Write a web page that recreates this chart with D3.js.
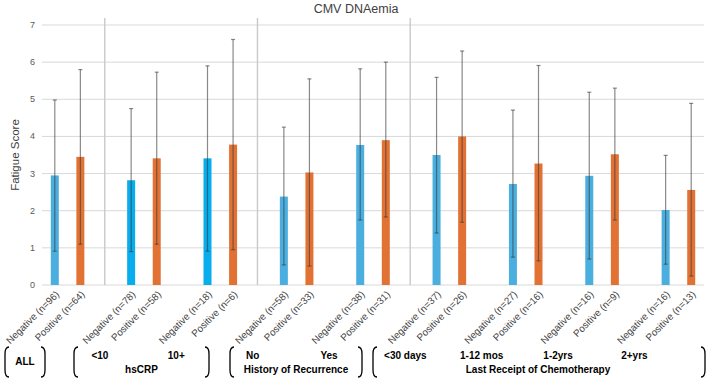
<!DOCTYPE html>
<html>
<head>
<meta charset="utf-8">
<script src="https://cdn.jsdelivr.net/npm/d3@7"></script>
<style>
  body { margin: 0; background: #fff; }
  svg text { font-family: "Liberation Sans", Arial, sans-serif; }
</style>
</head>
<body>
<div id="chart"></div>
<script>
var width = 709;
var height = 380;

// clusters (one per subgroup), left to right
var clusters = ["ALL", "<10", "10+", "No", "Yes", "<30 days", "1-12 mos", "1-2yrs", "2+yrs"];
var clusterGroup = ["ALL", "hsCRP", "hsCRP", "Recurrence", "Recurrence", "Chemo", "Chemo", "Chemo", "Chemo"];
var series = ["Negative", "Positive"];

// group sizes
var negN = [96, 78, 18, 58, 38, 37, 27, 16, 16];
var posN = [64, 58, 6, 33, 31, 26, 16, 9, 13];

// mean fatigue score
var negMean = [2.95, 2.82, 3.41, 2.38, 3.77, 3.50, 2.72, 2.94, 2.02];
var posMean = [3.45, 3.41, 3.78, 3.03, 3.90, 4.00, 3.27, 3.52, 2.56];

// error bar ends
var negLow  = [0.91, 0.90, 0.91, 0.54, 1.75, 1.40, 0.75, 0.70, 0.56];
var negHigh = [4.98, 4.75, 5.90, 4.25, 5.82, 5.59, 4.71, 5.19, 3.49];
var posLow  = [1.10, 1.10, 0.95, 0.51, 1.83, 1.69, 0.65, 1.75, 0.24];
var posHigh = [5.80, 5.73, 6.61, 5.55, 6.00, 6.30, 5.91, 5.30, 4.89];

var yTicks = [0, 1, 2, 3, 4, 5, 6, 7];

// bracketed captions under the axis
var groupTitles = ["", "hsCRP", "History of Recurrence", "Last Receipt of Chemotherapy"];
var groupKeys = ["ALL", "hsCRP", "Recurrence", "Chemo"];
var groupBrackets = [[5, 45], [74, 209], [230, 362], [373, 705]]; // annotation layout, px

document.addEventListener("DOMContentLoaded", function() {

    var margin = {top: 25, right: 5, bottom: 95, left: 42};

    var svg = d3.select("#chart")
        .append("svg")
        .attr("width", width)
        .attr("height", height);

    var x = d3.scaleBand()
        .domain(clusters)
        .range([margin.left, width - margin.right])
        .paddingInner(0.33)
        .paddingOuter(0);

    var xs = d3.scaleBand()
        .domain(series)
        .range([0, x.bandwidth()]);

    var y = d3.scaleLinear()
        .domain([0, 7])
        .range([height - margin.bottom, margin.top]);

    // gridlines
    svg.append("g")
        .selectAll("line")
        .data(yTicks)
        .enter()
        .append("line")
            .attr("x1", margin.left)
            .attr("x2", width - margin.right)
            .attr("y1", d => y(d))
            .attr("y2", d => y(d))
            .attr("stroke", "#d9d9d9")
            .attr("stroke-width", 1);

    // y tick labels
    svg.append("g")
        .selectAll("text")
        .data(yTicks)
        .enter()
        .append("text")
            .attr("x", 35)
            .attr("y", d => y(d) + 3)
            .attr("text-anchor", "end")
            .attr("font-size", "9px")
            .attr("fill", "#595959")
            .text(d => d);

    // vertical separators between groups
    var sepAfter = [0, 2, 4];
    svg.append("g")
        .selectAll("line")
        .data(sepAfter)
        .enter()
        .append("line")
            .attr("x1", i => (x(clusters[i]) + x.bandwidth() + x(clusters[i + 1])) / 2 - 1)
            .attr("x2", i => (x(clusters[i]) + x.bandwidth() + x(clusters[i + 1])) / 2 - 1)
            .attr("y1", 18)
            .attr("y2", y(0))
            .attr("stroke", "#c9c9c9")
            .attr("stroke-width", 1.4);

    // flatten into bars
    var bars = [];
    clusters.forEach(function(c, i) {
        bars.push({cluster: c, group: clusterGroup[i], s: "Negative", n: negN[i], mean: negMean[i], lo: negLow[i], hi: negHigh[i]});
        bars.push({cluster: c, group: clusterGroup[i], s: "Positive", n: posN[i], mean: posMean[i], lo: posLow[i], hi: posHigh[i]});
    });

    var barW = 8;
    var cx = d => x(d.cluster) + xs(d.s) + xs.bandwidth() / 2;

    svg.append("g")
        .selectAll("rect")
        .data(bars)
        .enter()
        .append("rect")
            .attr("x", d => cx(d) - barW / 2)
            .attr("y", d => y(d.mean))
            .attr("width", barW)
            .attr("height", d => y(0) - y(d.mean))
            .attr("fill", function(d) {
                if (d.s == "Positive") return "#e27234";
                return d.group == "hsCRP" ? "#07adec" : "#4aaedf";
            });

    // error bars
    var eb = svg.append("g")
        .attr("stroke", "#3a3a3a")
        .attr("stroke-opacity", 0.6)
        .attr("stroke-width", 1.2);
    eb.selectAll(".stem")
        .data(bars)
        .enter()
        .append("line")
            .attr("x1", cx).attr("x2", cx)
            .attr("y1", d => y(d.lo))
            .attr("y2", d => y(d.hi));
    eb.selectAll(".capHi")
        .data(bars)
        .enter()
        .append("line")
            .attr("x1", d => cx(d) - 2).attr("x2", d => cx(d) + 2)
            .attr("y1", d => y(d.hi)).attr("y2", d => y(d.hi));
    eb.selectAll(".capLo")
        .data(bars)
        .enter()
        .append("line")
            .attr("x1", d => cx(d) - 2).attr("x2", d => cx(d) + 2)
            .attr("y1", d => y(d.lo)).attr("y2", d => y(d.lo));

    // rotated category labels
    svg.append("g")
        .selectAll("text")
        .data(bars)
        .enter()
        .append("text")
            .attr("transform", d => "translate(" + (cx(d) + 5) + "," + (y(0) + 10) + ") rotate(-45)")
            .attr("text-anchor", "end")
            .attr("font-size", "9.8px")
            .attr("fill", "#404040")
            .text(d => d.s + " (n=" + d.n + ")");

    // title
    svg.append("text")
        .attr("x", 356)
        .attr("y", 13)
        .attr("text-anchor", "middle")
        .attr("font-size", "12.5px")
        .attr("fill", "#404040")
        .text("CMV DNAemia");

    // y label
    svg.append("text")
        .attr("transform", "translate(19," + ((y(0) + y(7)) / 2) + ") rotate(-90)")
        .attr("text-anchor", "middle")
        .attr("font-size", "11.5px")
        .attr("fill", "#404040")
        .text("Fatigue Score");

    // brackets + captions
    var top = 347, bot = 377;
    var bg = svg.append("g");
    groupKeys.forEach(function(k, gi) {
        var b = groupBrackets[gi];
        bg.append("path")
            .attr("d", "M" + (b[0] + 4) + "," + top + " Q" + b[0] + "," + top + " " + b[0] + "," + (top + 7) +
                       " L" + b[0] + "," + (bot - 7) + " Q" + b[0] + "," + bot + " " + (b[0] + 4) + "," + bot)
            .attr("fill", "none").attr("stroke", "#000").attr("stroke-width", 1.3);
        bg.append("path")
            .attr("d", "M" + (b[1] - 4) + "," + top + " Q" + b[1] + "," + top + " " + b[1] + "," + (top + 7) +
                       " L" + b[1] + "," + (bot - 7) + " Q" + b[1] + "," + bot + " " + (b[1] - 4) + "," + bot)
            .attr("fill", "none").attr("stroke", "#000").attr("stroke-width", 1.3);

        var members = clusters.filter((c, i) => clusterGroup[i] == k);
        if (k == "ALL") {
            bg.append("text")
                .attr("x", (b[0] + b[1]) / 2).attr("y", 365)
                .attr("text-anchor", "middle")
                .attr("font-size", "10px").attr("font-weight", "bold")
                .text("ALL");
            return;
        }
        members.forEach(function(m) {
            bg.append("text")
                .attr("x", x(m) + x.bandwidth() / 2 - 44)
                .attr("y", 359)
                .attr("text-anchor", "middle")
                .attr("font-size", "10px").attr("font-weight", "bold")
                .text(m);
        });
        bg.append("text")
            .attr("x", (b[0] + b[1]) / 2 + (k == "Chemo" ? -1 : 0))
            .attr("y", 373)
            .attr("text-anchor", "middle")
            .attr("font-size", "10px").attr("font-weight", "bold")
            .text(groupTitles[gi]);
    });
});
</script>
</body>
</html>
